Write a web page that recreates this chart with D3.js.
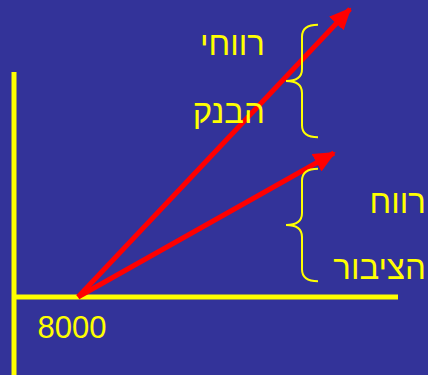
<html><head>
<meta charset="utf-8">
<script src="https://d3js.org/d3.v7.min.js"></script>
<style>
  body { margin: 0; background: #333399; }
  svg { display: block; }
</style>
</head>
<body>
<div id="chart"></div>
<script>

// arrows start at the 8000 point and rise to the right
var arrowNames = ["bank", "public"];
var startX = 8000;
var startY = 0;
var endX = [42000, 40000];
var endY = [128, 64];

// braces mark the gains (top value, bottom value)
var braceTop = [121, 57];
var braceBottom = [71, 7];
var braceLabels = [["רווחי", "הבנק"], ["רווח", "הציבור"]];

var tickLabels = ["8000"];

var width = 428, height = 375;

var svg = d3.select("#chart")
  .append("svg")
    .attr("width", width)
    .attr("height", height);

svg.append("rect")
  .attr("width", width)
  .attr("height", height)
  .attr("fill", "#333399");

var x = d3.scaleLinear().domain([0, 48000]).range([14, 398]);
var y = d3.scaleLinear().domain([0, 100]).range([297, 72]);

// axes
svg.append("line")
  .attr("x1", x(0)).attr("x2", x(0))
  .attr("y1", y(100)).attr("y2", height)
  .attr("stroke", "#ffff00")
  .attr("stroke-width", 5);

svg.append("line")
  .attr("x1", x(0) - 2).attr("x2", x(48000))
  .attr("y1", y(0)).attr("y2", y(0))
  .attr("stroke", "#ffff00")
  .attr("stroke-width", 5);

svg.selectAll(".tick-label")
  .data(tickLabels)
  .enter().append("text")
  .attr("class", "tick-label")
  .attr("x", function(d) { return x(+d) - 6; })
  .attr("y", y(0) + 41)
  .attr("text-anchor", "middle")
  .attr("fill", "#ffff00")
  .style("font-family", "Arial, 'Liberation Sans', sans-serif")
  .style("font-size", "31px")
  .text(function(d) { return d; });

// arrowhead
svg.append("defs").append("marker")
  .attr("id", "head")
  .attr("markerUnits", "userSpaceOnUse")
  .attr("viewBox", "0 0 22 20")
  .attr("refX", 20)
  .attr("refY", 10)
  .attr("markerWidth", 22)
  .attr("markerHeight", 20)
  .attr("orient", "auto")
  .append("path")
  .attr("d", "M0,0 L22,10 L0,20 Z")
  .attr("fill", "#ff0000");

svg.selectAll(".arrow")
  .data(arrowNames)
  .enter().append("line")
  .attr("class", "arrow")
  .attr("x1", x(startX))
  .attr("y1", y(startY))
  .attr("x2", function(d, i) { return x(endX[i]); })
  .attr("y2", function(d, i) { return y(endY[i]); })
  .attr("stroke", "#ff0000")
  .attr("stroke-width", 5)
  .attr("marker-end", "url(#head)");

// curly braces
var braceLeft = x(34000), braceMid = x(36000), braceRight = x(38000);

function bracePath(top, bottom) {
  var t = y(top), b = y(bottom), m = (t + b) / 2;
  var r = 12;
  return "M" + braceRight + "," + t +
    " Q" + braceMid + "," + t + " " + braceMid + "," + (t + r) +
    " L" + braceMid + "," + (m - r) +
    " Q" + braceMid + "," + m + " " + braceLeft + "," + m +
    " Q" + braceMid + "," + m + " " + braceMid + "," + (m + r) +
    " L" + braceMid + "," + (b - r) +
    " Q" + braceMid + "," + b + " " + braceRight + "," + b;
}

svg.selectAll(".brace")
  .data(braceTop)
  .enter().append("path")
  .attr("class", "brace")
  .attr("d", function(d, i) { return bracePath(braceTop[i], braceBottom[i]); })
  .attr("fill", "none")
  .attr("stroke", "#ffff00")
  .attr("stroke-width", 2);

// labels
var labelRight = [265, 426];
var labelBase = [[55, 123], [213, 279]];

braceLabels.forEach(function(lines, i) {
  lines.forEach(function(t, j) {
    svg.append("text")
      .attr("x", labelRight[i])
      .attr("y", labelBase[i][j])
      .attr("text-anchor", "end")
      .attr("fill", "#ffff00")
      .style("font-family", "Arial, 'Liberation Sans', sans-serif")
      .style("font-size", "33px")
      .text(t);
  });
});

</script>
</body></html>
